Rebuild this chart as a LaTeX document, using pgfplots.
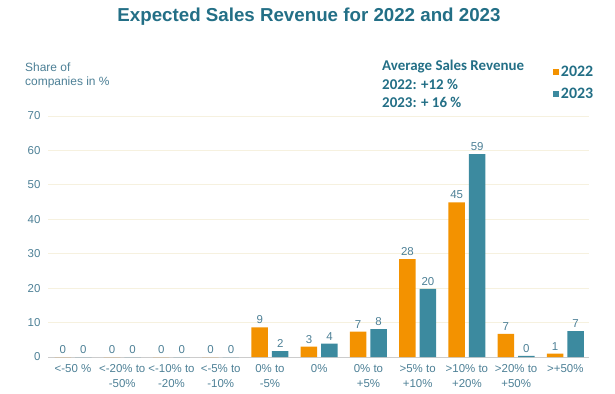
\documentclass[border=0pt]{standalone}
\usepackage{pgfplots}
\pgfplotsset{compat=1.18}
\usepackage{fontspec}
\setmainfont{Liberation Sans}
\newfontfamily\calib{Carlito}
\definecolor{orng}{HTML}{F39200}
\definecolor{teal2}{HTML}{3C8A9F}
\definecolor{titlec}{HTML}{236F86}
\definecolor{tickc}{HTML}{4D8096}
\definecolor{gridc}{HTML}{F6F1DF}
\begin{document}
\begin{tikzpicture}[x=1bp,y=1bp]
\path (0,0) rectangle (615,393);
\begin{axis}[
  at={(48bp,36bp)}, anchor=south west,
  scale only axis, width=541bp, height=241bp,
  ymin=0, ymax=70, ytick={0,10,...,70},
  xmin=-0.508, xmax=10.48,
  xtick={0,...,10},
  xticklabels={{<-50 \%},{<-20\% to\\-50\%},{<-10\% to\\-20\%},{<-5\% to\\-10\%},{0\% to\\-5\%},{0\%},{0\% to\\+5\%},{>5\% to\\+10\%},{>10\% to\\+20\%},{>20\% to\\+50\%},{>+50\%}},
  xticklabel style={align=center, font=\fontsize{11.5}{15}\selectfont, text=tickc, yshift=-4bp},
  yticklabel style={font=\fontsize{11.5}{13}\selectfont, text=tickc, xshift=-4bp},
  /pgf/number format/assume math mode=true,
  axis x line*=bottom, axis y line*=left,
  y axis line style={draw=none},
  x axis line style={draw=gray!40, line width=1pt, -},
  ymajorgrids, grid style={draw=gridc, line width=0.8pt},
  major tick length=0pt,
  ybar, bar width=16.5bp,
  every node near coord/.append style={font=\fontsize{11.5}{13}\selectfont, text=tickc},
  nodes near coords={\pgfplotspointmeta},
  point meta=explicit symbolic,
  legend style={at={(0.933,1.216)}, anchor=north west, draw=none, fill=none,
    font=\calib\bfseries\fontsize{16}{18}\selectfont, text=titlec,
    row sep=6bp, inner sep=0pt},
  legend image code/.code={\fill[#1] (0bp,-3bp) rectangle (6bp,3bp);},
  clip=false,
]
\addplot[fill=orng, draw=none, bar shift=-10.25bp] coordinates {
(0,0) [0] (1,0) [0] (2,0) [0] (3,0) [0] (4,8.6) [9] (5,3) [3] (6,7.4) [7] (7,28.4) [28] (8,44.9) [45] (9,6.7) [7] (10,1.0) [1]};
\addplot[fill=teal2, draw=none, bar shift=10.25bp] coordinates {
(0,0) [0] (1,0) [0] (2,0) [0] (3,0) [0] (4,1.7) [2] (5,3.9) [4] (6,8.1) [8] (7,19.8) [20] (8,58.9) [59] (9,0.3) [0] (10,7.5) [7]};
\legend{2022,2023}
\end{axis}
\node[text=titlec, font=\bfseries\fontsize{18.8}{22}\selectfont] at (309,376) {Expected Sales Revenue for 2022 and 2023};
\node[anchor=north west, align=left, text=tickc, font=\fontsize{12}{14}\selectfont, inner sep=0pt] at (25,330) {Share of\\companies in \%};
\node[anchor=north west, align=left, text=titlec, font=\calib\bfseries\fontsize{15}{18.5}\selectfont, inner sep=0pt] at (382,333) {Average Sales Revenue\\2022: +12 \%\\2023: + 16 \%};
\end{tikzpicture}
\end{document}
